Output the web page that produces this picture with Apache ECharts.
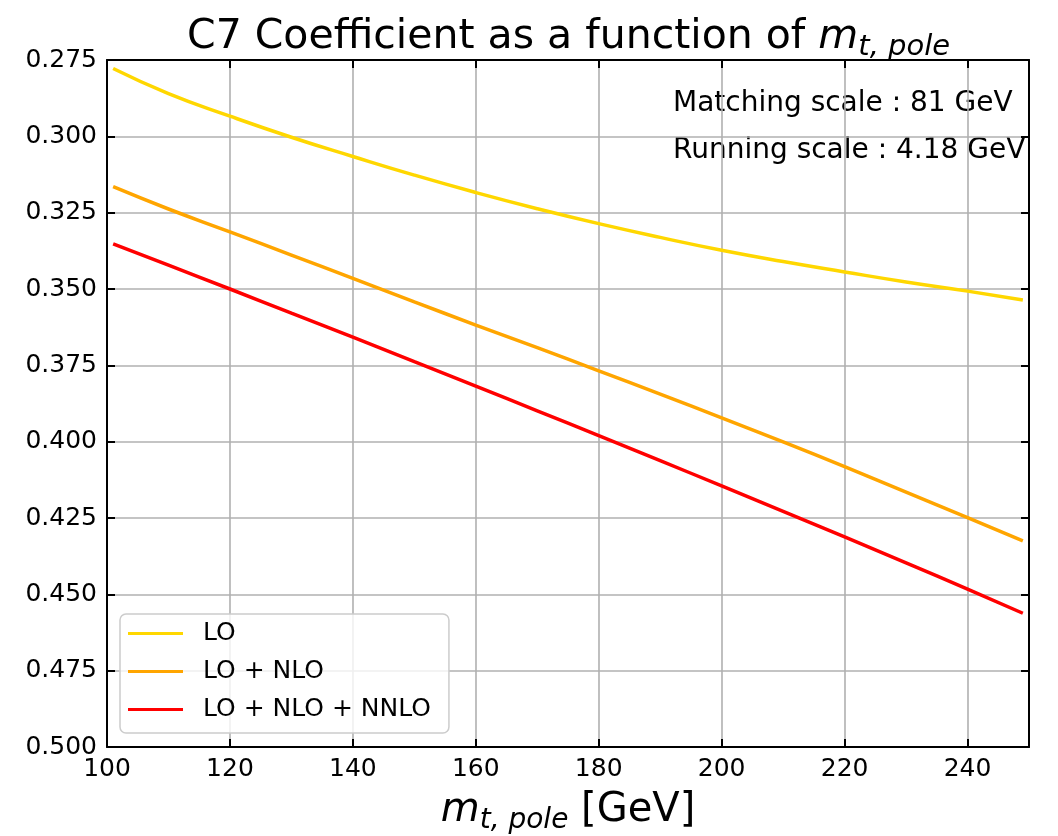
<!DOCTYPE html>
<html>
<head>
<meta charset="utf-8">
<script src="https://cdn.jsdelivr.net/npm/echarts@6/dist/echarts.min.js"></script>
<style>
  html, body { margin: 0; padding: 0; background: #fff; }
  #main { width: 1058px; height: 836px; }
</style>
</head>
<body>
<div id="main"></div>
<script>
// top mass values (GeV)
var mtPole = [101, 110, 120, 130, 140, 150, 160, 170, 180, 190, 200, 210, 220, 230, 240, 249];
// C7 coefficient
var c7LO = [-0.2778, -0.2860, -0.2934, -0.3003, -0.3066, -0.3127, -0.3184, -0.3237, -0.3286, -0.3331,
            -0.3373, -0.3410, -0.3444, -0.3477, -0.3507, -0.3536];
var c7NLO = [-0.3165, -0.3238, -0.3313, -0.3389, -0.3465, -0.3542, -0.3618, -0.3692, -0.3768, -0.3844,
             -0.3922, -0.4001, -0.4082, -0.4165, -0.4249, -0.4325];
var c7NNLO = [-0.3352, -0.3422, -0.3500, -0.3579, -0.3658, -0.3738, -0.3818, -0.3899, -0.3980, -0.4062,
              -0.4145, -0.4228, -0.4312, -0.4397, -0.4483, -0.4562];
var seriesNames = ['LO', 'LO + NLO', 'LO + NLO + NNLO'];
var seriesColors = ['#FFD700', '#FFA500', '#FF0000'];

var fontFam = 'DejaVu Sans';

function pairs(xs, ys) {
    var out = [];
    for (var i = 0; i < xs.length; i++) {
        out.push([xs[i], ys[i]]);
    }
    return out;
}

var myChart = echarts.init(document.getElementById('main'), null, {renderer: 'canvas'});

var tickStyle = {show: true, inside: true, length: 8, lineStyle: {color: '#000', width: 2}};
var spine = {show: true, onZero: false, lineStyle: {color: '#000', width: 2}};

var seriesList = [];
var allY = [c7LO, c7NLO, c7NNLO];
for (var i = 0; i < allY.length; i++) {
    seriesList.push({
        name: seriesNames[i],
        type: 'line',
        xAxisIndex: 0,
        yAxisIndex: 0,
        smooth: true,
        showSymbol: false,
        data: pairs(mtPole, allY[i]),
        lineStyle: {color: seriesColors[i], width: 3.5},
        itemStyle: {color: seriesColors[i]},
        z: 3
    });
}

option = {
    backgroundColor: '#fff',
    animation: false,
    textStyle: {fontFamily: fontFam},
    title: {
        left: 182,
        top: 8,
        text: '{a|C7 Coefficient as a function of }{m|m}{s|t, pole}',
        textStyle: {
            fontWeight: 'normal',
            rich: {
                a: {fontFamily: fontFam, fontSize: 41, fontWeight: 'normal', color: '#000'},
                m: {fontFamily: fontFam, fontSize: 41, fontWeight: 'normal', fontStyle: 'italic', color: '#000'},
                s: {fontFamily: fontFam, fontSize: 29, fontWeight: 'normal', fontStyle: 'italic', color: '#000', padding: [20, 0, 0, 0]}
            }
        }
    },
    legend: {
        orient: 'vertical',
        left: 120,
        top: 614,
        data: seriesNames,
        icon: 'rect',
        itemWidth: 55,
        itemHeight: 3,
        itemGap: 13,
        padding: [7, 18, 11, 8],
        backgroundColor: 'rgba(255,255,255,0.8)',
        borderColor: '#cccccc',
        borderWidth: 1.5,
        borderRadius: 6,
        textStyle: {fontFamily: fontFam, fontSize: 25, color: '#000', padding: [0, 0, 0, 15]}
    },
    grid: {left: 107, right: 29, top: 60, bottom: 89, containLabel: false, outerBoundsMode: 'none'},
    xAxis: [{
        type: 'value',
        min: 100,
        max: 250,
        interval: 20,
        position: 'bottom',
        axisLine: spine,
        axisTick: tickStyle,
        axisLabel: {fontFamily: fontFam, fontSize: 25, color: '#000', margin: 10, showMaxLabel: false},
        splitLine: {show: true, lineStyle: {color: '#b0b0b0', width: 1.6}},
        name: '{m|m}{s|t, pole}{n| [GeV]}',
        nameLocation: 'middle',
        nameGap: 40,
        nameTextStyle: {
            rich: {
                m: {fontFamily: fontFam, fontSize: 40, fontStyle: 'italic', color: '#000'},
                s: {fontFamily: fontFam, fontSize: 28, fontStyle: 'italic', color: '#000', padding: [20, 0, 0, 0]},
                n: {fontFamily: fontFam, fontSize: 40, color: '#000'}
            }
        }
    }, {
        type: 'value',
        min: 100,
        max: 250,
        interval: 20,
        position: 'top',
        axisLine: spine,
        axisTick: tickStyle,
        axisLabel: {show: false},
        splitLine: {show: false}
    }],
    yAxis: [{
        type: 'value',
        min: -0.5,
        max: -0.275,
        interval: 0.025,
        position: 'left',
        axisLine: spine,
        axisTick: tickStyle,
        axisLabel: {
            fontFamily: fontFam, fontSize: 25, color: '#000', margin: 10,
            formatter: function (v) { return Math.abs(v).toFixed(3); }
        },
        splitLine: {show: true, lineStyle: {color: '#b0b0b0', width: 1.6}}
    }, {
        type: 'value',
        min: -0.5,
        max: -0.275,
        interval: 0.025,
        position: 'right',
        axisLine: spine,
        axisTick: tickStyle,
        axisLabel: {show: false},
        splitLine: {show: false}
    }],
    graphic: [{
        type: 'text',
        left: 673,
        top: 90,
        style: {text: 'Matching scale : 81 GeV', font: '28px "DejaVu Sans"', fill: '#000'}
    }, {
        type: 'text',
        left: 673,
        top: 137,
        style: {text: 'Running scale : 4.18 GeV', font: '28px "DejaVu Sans"', fill: '#000'}
    }],
    series: seriesList
};

myChart.setOption(option);
</script>
</body>
</html>
